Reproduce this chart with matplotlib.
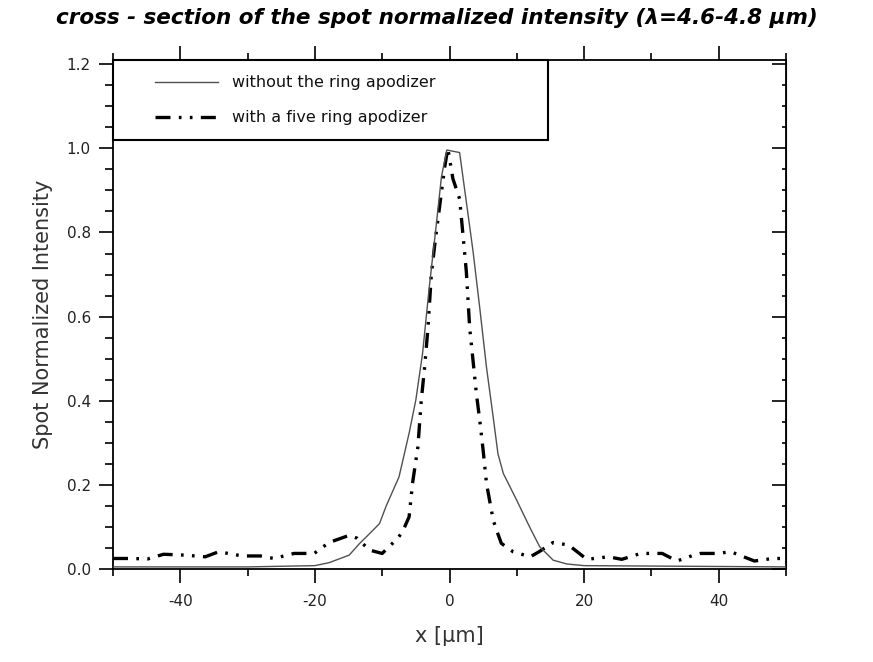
import numpy as np
import matplotlib
matplotlib.use("Agg")
import matplotlib.pyplot as plt
from matplotlib.legend_handler import HandlerLine2D
from matplotlib.ticker import MultipleLocator

# ---- data ----
x_without = [-50, -30, -20, -17.9, -14.9, -13.4, -11.5, -10.4, -9.4, -7.5, -6.0, -5.0, -4.0,
             -3.0, -2.0, -1.2, -0.4, 1.5, 2.5, 3.5, 4.5, 5.5, 6.5, 7.2, 8.0, 10.0, 11.9,
             13.4, 15.4, 17.4, 20, 30, 40, 50]
y_without = [0.005, 0.005, 0.008, 0.015, 0.033, 0.06, 0.09, 0.108, 0.15, 0.219, 0.323, 0.402,
             0.513, 0.671, 0.813, 0.932, 0.996, 0.99, 0.873, 0.755, 0.62, 0.479, 0.36, 0.274,
             0.227, 0.163, 0.10, 0.053, 0.021, 0.012, 0.008, 0.007, 0.006, 0.005]

x_with = [-50, -47.8, -44.8, -42.5, -39.3, -36.3, -34.3, -30.8, -28.1, -26.1, -23.1, -20.1,
          -17.9, -14.9, -13.7, -11.9, -10.0, -7.7, -7.0, -6.0, -5.5, -4.7, -4.2, -3.7, -3.2,
          -2.7, -2.2, -1.5, -0.75, -0.25, 0.5, 1.5, 2.0, 2.5, 3.0, 3.5, 4.0, 4.5, 5.0, 5.5,
          6.5, 7.0, 7.7, 9.45, 12.0, 13.3, 15.4, 17.7, 20.4, 23.6, 25.6, 28.4, 31.6, 33.8,
          36.3, 37.3, 39.8, 41.8, 45.3, 48, 50]
y_with = [0.025, 0.025, 0.024, 0.035, 0.033, 0.029, 0.041, 0.031, 0.031, 0.025, 0.037, 0.037,
          0.063, 0.08, 0.073, 0.045, 0.037, 0.073, 0.088, 0.124, 0.203, 0.29, 0.40, 0.479,
          0.573, 0.70, 0.77, 0.858, 0.952, 1.0, 0.928, 0.88, 0.795, 0.707, 0.573, 0.495,
          0.416, 0.353, 0.282, 0.203, 0.116, 0.092, 0.061, 0.041, 0.029, 0.041, 0.063, 0.057,
          0.023, 0.029, 0.023, 0.037, 0.037, 0.019, 0.033, 0.037, 0.037, 0.041, 0.019,
          0.025, 0.025]

label_without = "without the ring apodizer"
label_with = "with a five ring apodizer"
title = "cross - section of the spot normalized intensity (λ=4.6-4.8 µm)"
xlabel = "x [µm]"
ylabel = "Spot Normalized Intensity"

plt.rcParams['font.family'] = ['DejaVu Sans']
plt.rcParams['axes.unicode_minus'] = False

fig = plt.figure(figsize=(8.73, 6.62), dpi=100)
ax = fig.add_axes([113/873, (662-569)/662, (786-113)/873, (569-60)/662])

ax.plot(x_with, y_with, color='black', lw=2.4, dashes=(4.5, 2.5, 0.8, 2.5, 0.8, 2.5),
        label=label_with, zorder=2, solid_capstyle='butt', dash_capstyle='butt')
ax.plot(x_without, y_without, color='#505050', lw=1.0, label=label_without, zorder=3)

ax.set_xlim(-50, 50)
ax.set_ylim(0, 1.21)
ax.xaxis.set_major_locator(MultipleLocator(20))
ax.xaxis.set_minor_locator(MultipleLocator(10))
ax.yaxis.set_major_locator(MultipleLocator(0.2))
ax.yaxis.set_minor_locator(MultipleLocator(0.05))
ax.yaxis.set_major_formatter(matplotlib.ticker.FormatStrFormatter('%.1f'))

for s in ax.spines.values():
    s.set_linewidth(1.3)
    s.set_color('black')

ax.tick_params(axis='both', which='major', length=10, width=1.2, labelsize=11, colors='black',
               labelcolor='#222222')
ax.tick_params(axis='both', which='minor', length=6, width=1.2)
ax.tick_params(axis='x', which='both', top=True, direction='out', pad=8)
ax.tick_params(axis='y', which='both', right=False, direction='out', pad=6)

# right ticks point inward
axr = ax.secondary_yaxis('right')
axr.yaxis.set_major_locator(MultipleLocator(0.2))
axr.yaxis.set_minor_locator(MultipleLocator(0.05))
axr.tick_params(which='major', direction='in', length=10, width=1.2, labelright=False)
axr.tick_params(which='minor', direction='in', length=3, width=1.2)
ax.tick_params(axis='x', which='major', labeltop=False)
ax.tick_params(axis='x', which='minor', top=True, length=5)

ax.set_xlabel(xlabel, fontsize=15, color='#333333', labelpad=12)
ax.set_ylabel(ylabel, fontsize=15, color='#333333', labelpad=10)

fig.text(0.5, 1 - 18/662, title, ha='center', va='center', fontsize=15.5,
         fontweight='bold', fontstyle='italic', color='black')


class ShiftedHandler(HandlerLine2D):
    def get_xdata(self, legend, xdescent, ydescent, width, height, fontsize):
        x0 = -xdescent + width * 0.30
        x1 = -xdescent + width
        return np.array([x0, x1]), np.array([(x0 + x1) / 2])


h_with, h_without = ax.get_lines()
leg = ax.legend([h_without, h_with], [label_without, label_with],
                loc='upper left', bbox_to_anchor=(0, 1 - 0.153, 0.646, 0.153), mode='expand',
                borderaxespad=0, fancybox=False, framealpha=1, edgecolor='black',
                fontsize=11.5, handlelength=5.6, handletextpad=0.9, labelspacing=1.25,
                borderpad=0.95,
                handler_map={h_without: ShiftedHandler(), h_with: ShiftedHandler()})
leg.get_frame().set_linewidth(1.5)
for t in leg.get_texts():
    t.set_color('#111111')

fig.savefig('out.png', dpi=100)
